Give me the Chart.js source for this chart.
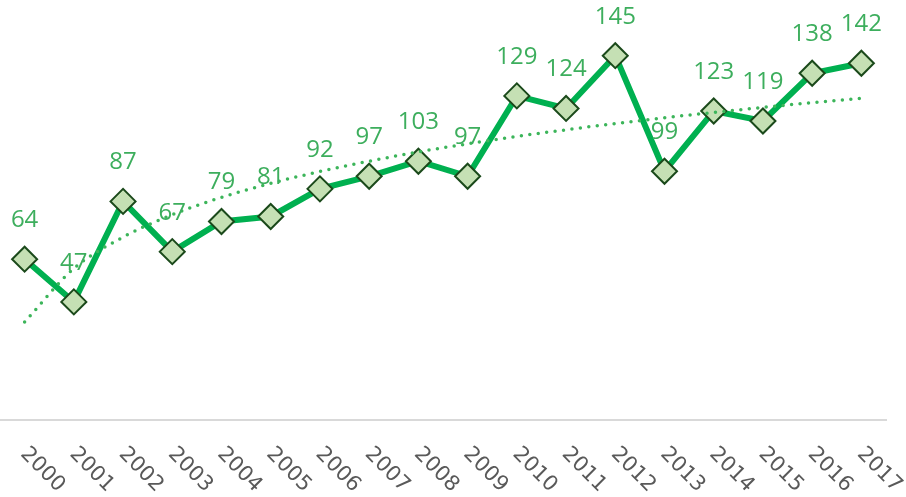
<!DOCTYPE html>
<html>
<head>
<meta charset="utf-8">
<script src="https://cdn.jsdelivr.net/npm/chart.js@4/dist/chart.umd.min.js"></script>
<style>
html, body { margin: 0; padding: 0; background: #fff; }
#wrap { width: 906px; height: 497px; }
</style>
</head>
<body>
<div id="wrap"><canvas id="line-chartcanvas"></canvas></div>
<script>
// values
var years = ["2000", "2001", "2002", "2003", "2004", "2005", "2006", "2007", "2008",
             "2009", "2010", "2011", "2012", "2013", "2014", "2015", "2016", "2017"];
var counts = [64, 47, 87, 67, 79, 81, 92, 97, 103, 97, 129, 124, 145, 99, 123, 119, 138, 142];
// dotted trend line
var trend = [39, 60.3, 72.8, 81.7, 88.6, 94.2, 98.9, 103, 106.7, 109.9, 112.9, 115.5,
             118, 120.3, 122.4, 124.4, 126.3, 128];
var yMin = 0;
var yMax = 160;

// value labels above the points
var valueLabels = {
  id : "valueLabels",
  afterDatasetsDraw : function(chart) {
    var ctx = chart.ctx;
    var meta = chart.getDatasetMeta(0);
    ctx.save();
    ctx.fillStyle = "#3dae5d";
    ctx.font = "24px 'Open Sans'";
    ctx.textAlign = "center";
    ctx.textBaseline = "middle";
    for (var i = 0; i < meta.data.length; i++) {
      var pt = meta.data[i];
      ctx.fillText(String(counts[i]), pt.x, pt.y - 39);
    }
    ctx.restore();
  }
};

// slanted year labels, reading downwards to the right
var yearLabels = {
  id : "yearLabels",
  afterDraw : function(chart) {
    var ctx = chart.ctx;
    var xs = chart.scales.x;
    ctx.save();
    ctx.fillStyle = "#595959";
    ctx.font = "21px 'DejaVu Sans'";
    ctx.textAlign = "left";
    ctx.textBaseline = "middle";
    for (var i = 0; i < years.length; i++) {
      var x = xs.getPixelForTick(i);
      ctx.save();
      ctx.translate(x - 1, chart.chartArea.bottom + 31);
      ctx.rotate(Math.PI / 4);
      ctx.fillText(years[i], 0, 0);
      ctx.restore();
    }
    ctx.restore();
  }
};

//get canvas
var ctx = document.getElementById("line-chartcanvas");

var data = {
  labels : years,
  datasets : [
    {
      label : "Count",
      data : counts,
      order : 1,
      borderColor : "#00b050",
      borderWidth : 6,
      fill : false,
      tension : 0,
      pointStyle : "rectRot",
      pointRadius : 12.5,
      pointHoverRadius : 12.5,
      pointBackgroundColor : "#c5e0b4",
      pointBorderColor : "#1b4a1b",
      pointBorderWidth : 2
    },
    {
      label : "Trend",
      data : trend,
      order : 0,
      borderColor : "#3cb55a",
      borderWidth : 3.5,
      borderDash : [0, 8.5],
      borderCapStyle : "round",
      cubicInterpolationMode : "monotone",
      fill : false,
      pointRadius : 0
    }
  ]
};

var options = {
  responsive : true,
  maintainAspectRatio : false,
  animation : false,
  layout : {
    autoPadding : false,
    padding : { left : -5, right : 20, top : 18, bottom : 69 }
  },
  plugins : {
    legend : { display : false },
    title : { display : false },
    tooltip : { enabled : false }
  },
  scales : {
    x : {
      offset : true,
      grid : { display : false },
      border : { display : true, color : "#d9d9d9", width : 2 },
      ticks : { display : false }
    },
    y : {
      display : false,
      min : yMin,
      max : yMax
    }
  }
};

var chart = new Chart(ctx, {
  type : "line",
  data : data,
  options : options,
  plugins : [valueLabels, yearLabels]
});
</script>
</body>
</html>
